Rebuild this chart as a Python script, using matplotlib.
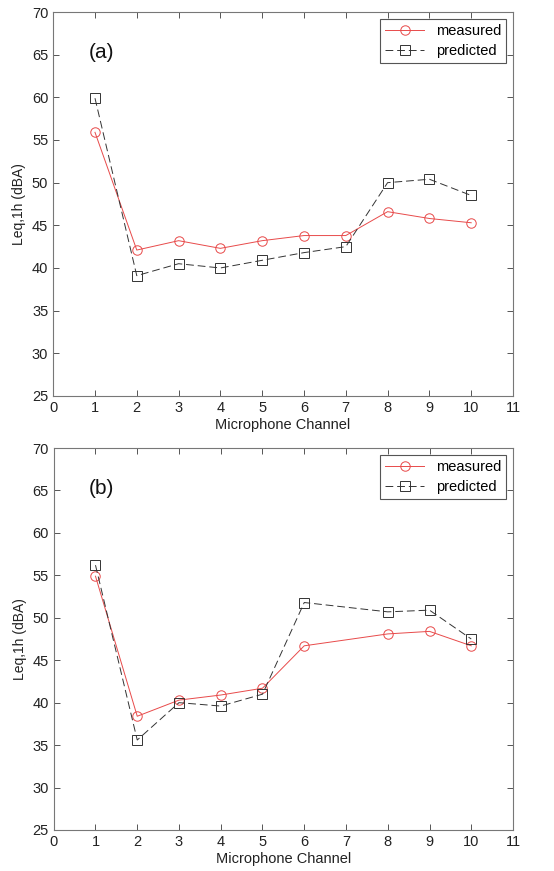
import matplotlib
matplotlib.use('Agg')
import matplotlib.pyplot as plt

plt.rcParams['font.family'] = ['Liberation Sans', 'DejaVu Sans']

# Panel (a)
canales_a = [1, 2, 3, 4, 5, 6, 7, 8, 9, 10]
medido_a = [55.9, 42.1, 43.2, 42.3, 43.2, 43.8, 43.8, 46.6, 45.8, 45.3]
predicho_a = [59.9, 39.1, 40.5, 40.0, 40.9, 41.8, 42.5, 50.0, 50.4, 48.5]

# Panel (b) - sin canal 7
canales_b = [1, 2, 3, 4, 5, 6, 8, 9, 10]
medido_b = [54.9, 38.4, 40.3, 40.9, 41.7, 46.7, 48.1, 48.4, 46.7]
predicho_b = [56.2, 35.6, 40.0, 39.6, 41.0, 51.8, 50.7, 50.9, 47.5]

etiquetas = ['(a)', '(b)']
x_ticks = list(range(0, 12))
y_ticks = list(range(25, 75, 5))

fig = plt.figure(figsize=(5.54, 8.71), dpi=100)
ax_a = fig.add_axes([0.096, 0.5454, 0.83, 0.4408])
ax_b = fig.add_axes([0.097, 0.0471, 0.829, 0.4385])

datos = [(ax_a, canales_a, medido_a, predicho_a),
         (ax_b, canales_b, medido_b, predicho_b)]

for i, (ax, x, med, pred) in enumerate(datos):
    ax.plot(x, med, '-o', color='#e84a4a', lw=0.7, ms=6.8, mfc='none', mew=0.7,
            label='measured')
    ax.plot(x, pred, '--s', color='#333333', lw=0.7, ms=6.8, mfc='none', mew=0.7,
            dashes=(8, 4), label='predicted')
    ax.set_xlim(0, 11)
    ax.set_ylim(25, 70)
    ax.set_xticks(x_ticks)
    ax.set_yticks(y_ticks)
    ax.tick_params(direction='in', length=4, width=0.7, colors='#555555',
                   labelcolor='#222222', labelsize=10.5, top=True, right=True)
    for s in ax.spines.values():
        s.set_color('#777777')
        s.set_linewidth(0.8)
    ax.set_ylabel('Leq,1h (dBA)', fontsize=10, color='#222222', labelpad=4)
    ax.set_xlabel('Microphone Channel', fontsize=10.5, color='#222222', labelpad=2)
    ax.text(0.077, 0.88, etiquetas[i], transform=ax.transAxes, fontsize=15,
            color='#111111')
    leg = ax.legend(loc='upper right', fontsize=10.5, fancybox=False,
                    framealpha=1, edgecolor='#555555', handlelength=2.7,
                    borderaxespad=0.45, labelspacing=0.45, borderpad=0.35)
    leg.get_frame().set_linewidth(0.8)

fig.savefig('out.png', dpi=100)
